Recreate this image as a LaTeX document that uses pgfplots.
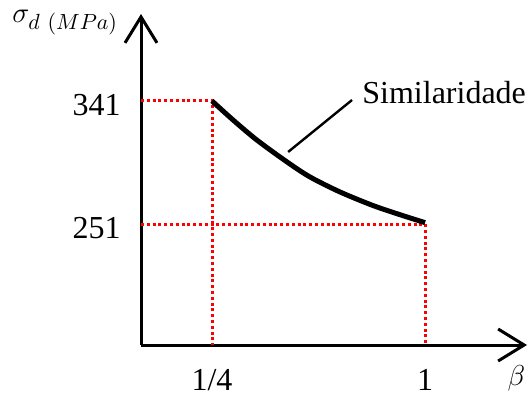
\documentclass[border=0pt]{standalone}
\usepackage{fontspec}
\setmainfont{Liberation Serif}
\usepackage{pgfplots}
\pgfplotsset{compat=1.18}
\usetikzlibrary{arrows.meta}
\begin{document}
\fontsize{16}{19}\selectfont
\begin{tikzpicture}
\useasboundingbox (-70.5pt,-25.5pt) rectangle (193.5pt,172.5pt);
\begin{axis}[
  at={(0pt,0pt)}, anchor=south west,
  scale only axis, width=193pt, height=165.5pt,
  xmin=0, xmax=1.359, ymin=162.5, ymax=404.6,
  axis lines=left,
  axis line style={line width=1.5pt, -{Straight Barb[length=13pt,width=16pt]}},
  xtick={0.25,1}, xticklabels={1/4,1},
  ytick={251,341},
  major tick length=0pt, tick style={draw=none},
  /pgf/number format/assume math mode=true,
  xticklabel style={yshift=-6.5pt},
  yticklabel style={xshift=-4.7pt, yshift=-2pt},
  clip=false,
]
\addplot[red, line width=1.5pt, dash pattern=on 1.5pt off 1.4pt] coordinates {(0,341) (0.25,341) (0.25,162.5)};
\addplot[red, line width=1.5pt, dash pattern=on 1.5pt off 1.4pt] coordinates {(0,251) (1,251) (1,162.5)};
\addplot[black, line width=2.5pt, smooth, line cap=butt] coordinates {
  (0.25,341) (0.324,327.1) (0.408,312.4) (0.514,296.4) (0.595,285.4)
  (0.701,274.4) (0.817,264.5) (0.912,257.8) (1,252)};
\draw[line width=1.2pt] (axis cs:0.518,303.7) -- (axis cs:0.743,341.7);
\node[anchor=base west, inner sep=0pt] at (axis cs:0.778,339.5) {Similaridade};
\node[anchor=north, inner sep=0pt, font=\fontsize{15}{18}\selectfont] at (axis cs:1.322,147.5) {$\beta$};
\node[anchor=north west, inner sep=0pt, font=\fontsize{15.5}{18}\selectfont] at (axis cs:-0.454,407.5) {$\sigma_{d\ (MPa)}$};
\end{axis}
\end{tikzpicture}
\end{document}
